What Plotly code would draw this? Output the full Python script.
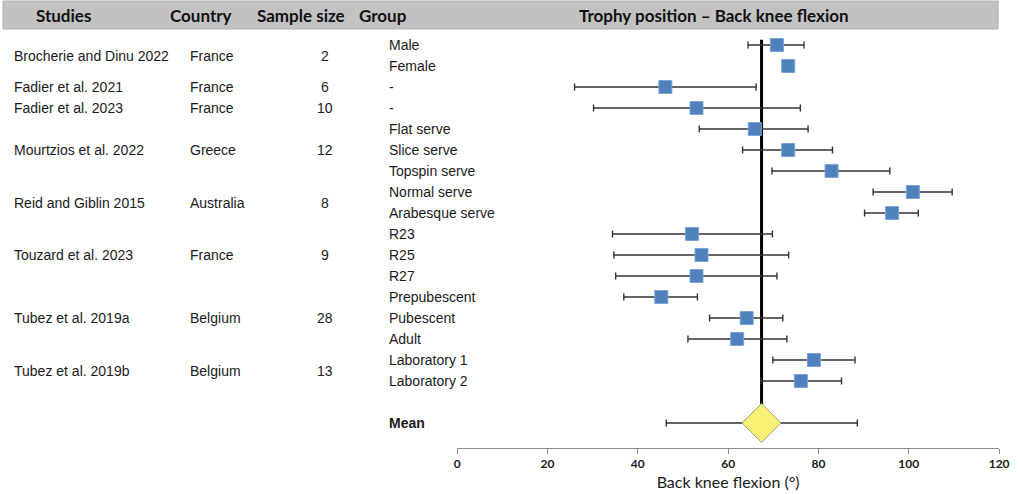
import plotly.graph_objects as go

# Studies (one entry per study) and how many group rows each one has
studies = ["Brocherie and Dinu 2022", "Fadier et al. 2021", "Fadier et al. 2023",
           "Mourtzios et al. 2022", "Reid and Giblin 2015", "Touzard et al. 2023",
           "Tubez et al. 2019a", "Tubez et al. 2019b"]
countries = ["France", "France", "France", "Greece", "Australia", "France",
             "Belgium", "Belgium"]
sample_sizes = [2, 6, 10, 12, 8, 9, 28, 13]
groups_per_study = [2, 1, 1, 3, 2, 3, 3, 2]

# Group rows: mean and confidence limits (back knee flexion, degrees)
groups = ["Male", "Female", "-", "-", "Flat serve", "Slice serve", "Topspin serve",
          "Normal serve", "Arabesque serve", "R23", "R25", "R27", "Prepubescent",
          "Pubescent", "Adult", "Laboratory 1", "Laboratory 2"]
means = [70.8, 73.3, 46.1, 53.0, 65.9, 73.3, 82.9, 100.9, 96.3, 52.0, 54.1, 53.0,
         45.2, 64.1, 62.0, 79.0, 76.1]
lower = [64.4, None, 26.0, 30.2, 53.6, 63.2, 69.7, 92.1, 90.2, 34.4, 34.7, 35.1,
         36.9, 55.9, 51.1, 69.9, 67.3]
upper = [76.8, None, 66.2, 76.0, 77.7, 83.1, 95.8, 109.6, 102.1, 69.8, 73.4, 70.8,
         53.2, 72.1, 73.0, 88.1, 85.1]

# Pooled mean
pooled_label = "Mean"
pooled_mean = 67.4
pooled_lower = 46.3
pooled_upper = 88.6

headers = ["Studies", "Country", "Sample size", "Group", "Trophy position \u2013 Back knee flexion"]
x_ticks = [0, 20, 40, 60, 80, 100, 120]
x_title = "Back knee flexion (\u00b0)"

# --- derived
rows = list(range(len(groups)))
mean_row = len(groups) + 1
err_plus = [0 if u is None else u - m for m, u in zip(means, upper)]
err_minus = [0 if l is None else m - l for m, l in zip(means, lower)]

study_rows = []
start = 0
for n in groups_per_study:
    study_rows.append(start + (n - 1) / 2)
    start += n

W, H = 1020, 494
body_font = dict(family="Liberation Sans, Arial", size=14, color="#1a1a1a")
head_font = dict(family="Lato, Open Sans", size=17, color="#111111")

fig = go.Figure()

# vertical line at the pooled mean
fig.add_trace(go.Scatter(x=[pooled_mean, pooled_mean], y=[-0.25, mean_row], mode="lines",
                         line=dict(color="black", width=3), hoverinfo="skip"))

fig.add_trace(go.Scatter(
    x=means, y=rows, mode="markers",
    marker=dict(symbol="square", size=13, color="#4F81BD", line=dict(color="#7da4d6", width=1)),
    error_x=dict(type="data", symmetric=False, array=err_plus, arrayminus=err_minus,
                 color="#333333", thickness=1.4, width=3.5)))

fig.add_trace(go.Scatter(
    x=[pooled_mean], y=[mean_row], mode="markers",
    marker=dict(symbol="diamond", size=30, color="#F9EF75", line=dict(color="#9da08a", width=1)),
    error_x=dict(type="data", symmetric=False, array=[pooled_upper - pooled_mean],
                 arrayminus=[pooled_mean - pooled_lower], color="#333333", thickness=1.4, width=3.5)))

ann = []
# header texts
ann.append(dict(x=61 / W, text="<b>" + headers[0] + "</b>", xanchor="center"))
ann.append(dict(x=201 / W, text="<b>" + headers[1] + "</b>", xanchor="center"))
ann.append(dict(x=302 / W, text="<b>" + headers[2] + "</b>", xanchor="center"))
ann.append(dict(x=359 / W, text="<b>" + headers[3] + "</b>", xanchor="left"))
ann.append(dict(x=720 / W, text="<b>" + headers[4] + "</b>", xanchor="center"))
for a in ann:
    a.update(xref="paper", yref="paper", y=1 - 15 / H, showarrow=False, yanchor="middle",
             font=head_font)

for s, c, n, r in zip(studies, countries, sample_sizes, study_rows):
    ann.append(dict(x=9 / W, y=r, text=s, xanchor="left"))
    ann.append(dict(x=187 / W, y=r, text=c, xanchor="left"))
    ann.append(dict(x=326 / W, y=r, text=str(n), xanchor="center"))
for g, r in zip(groups, rows):
    ann.append(dict(x=389 / W, y=r, text=g, xanchor="left"))
ann.append(dict(x=389 / W, y=mean_row, text="<b>" + pooled_label + "</b>", xanchor="left"))
for a in ann:
    if "xref" not in a:
        a.update(xref="paper", yref="y", showarrow=False, yanchor="middle", font=body_font)

fig.update_layout(
    width=W, height=H, margin=dict(l=0, r=0, t=0, b=0),
    paper_bgcolor="white", plot_bgcolor="white", showlegend=False,
    annotations=ann,
    shapes=[dict(type="rect", xref="paper", yref="paper", x0=0, x1=1008 / W, y0=1 - 29 / H,
                 y1=1 - 1 / H, fillcolor="#c2c2c2", line=dict(color="#b0b0b0", width=1),
                 layer="below")],
    xaxis=dict(domain=[460 / W, 1009 / W], range=[0, 120], tickvals=x_ticks,
               ticktext=["<b>%d</b>" % t for t in x_ticks],
               showgrid=False, zeroline=False, showline=True, linecolor="#8c8c8c", linewidth=1,
               ticks="outside", ticklen=5, tickcolor="#8c8c8c",
               tickfont=dict(family="Lato, Open Sans", size=12, color="#1a1a1a"),
               title=dict(text=x_title, standoff=6,
                          font=dict(family="Lato, Open Sans", size=16, color="#1a1a1a"))),
    yaxis=dict(domain=[(H - 448) / H, (H - 29) / H], range=[(448 - 45) / 21, (29 - 45) / 21],
               visible=False),
)

fig.write_html("out.html", config={"displayModeBar": False},
               post_script="document.body.style.margin='0';"
                           "document.body.style.overflow='hidden';"
                           "document.documentElement.style.overflow='hidden';")
